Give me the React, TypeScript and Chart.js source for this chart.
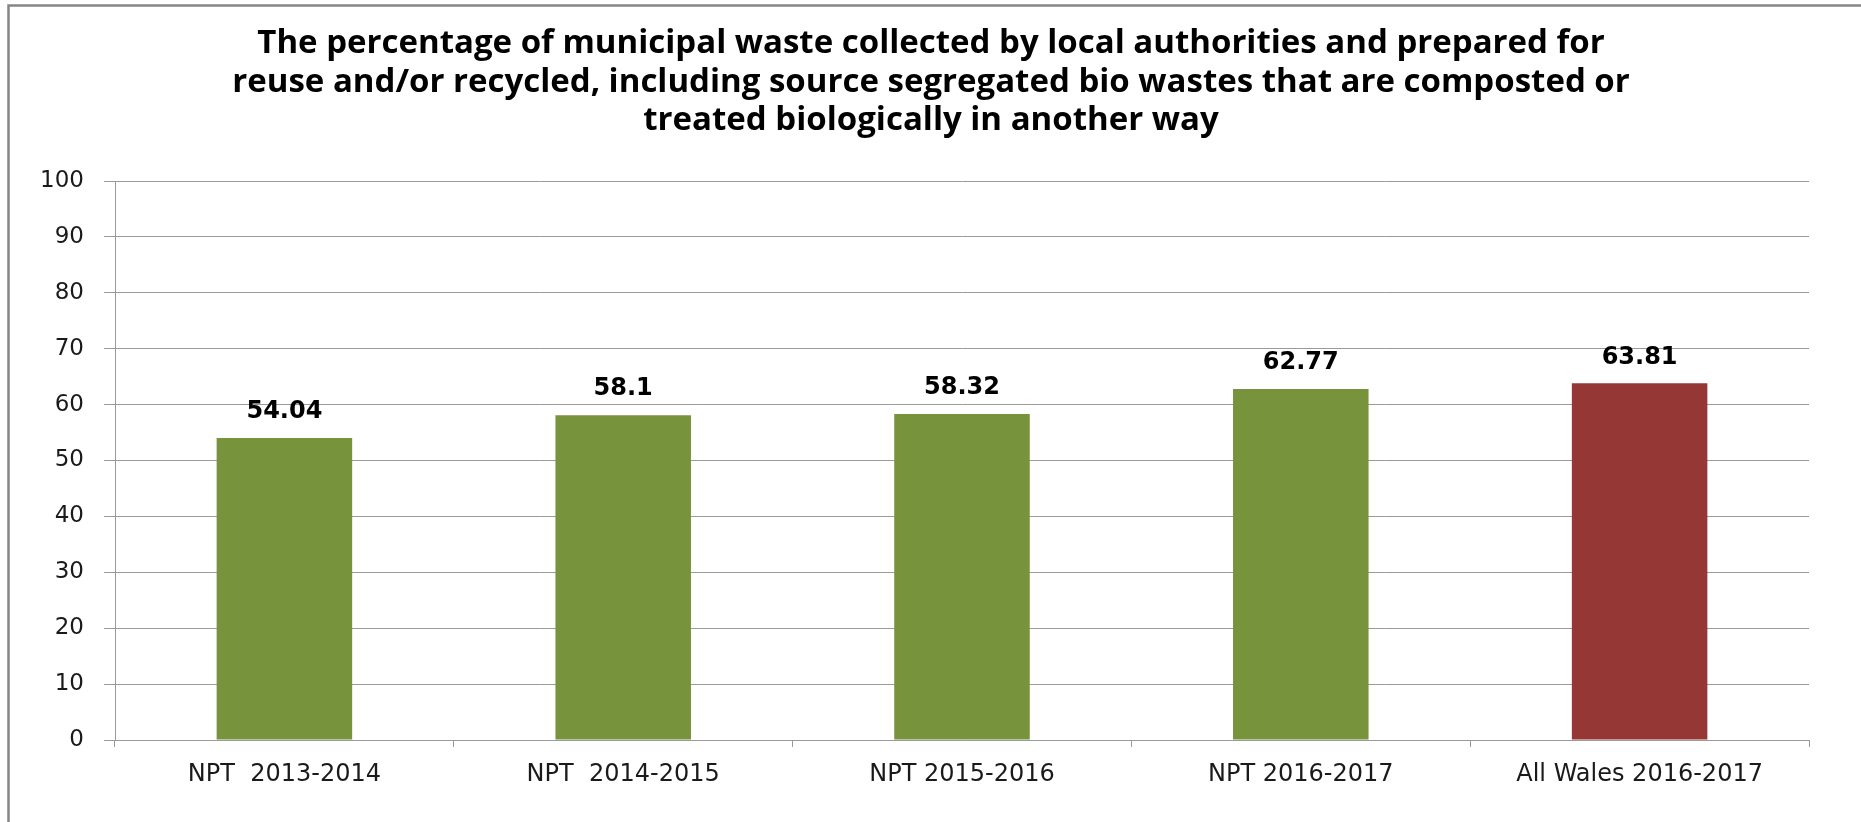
import React, { useEffect, useRef } from 'react';
import { Chart, registerables } from 'chart.js';

Chart.register(...registerables);

const categories = ['NPT  2013-2014', 'NPT  2014-2015', 'NPT 2015-2016', 'NPT 2016-2017', 'All Wales 2016-2017'];
const values = [54.04, 58.1, 58.32, 62.77, 63.81];
const barColors = ['#77933C', '#77933C', '#77933C', '#77933C', '#953735'];
const titleLines = [
  'The percentage of municipal waste collected by local authorities and prepared for',
  'reuse and/or recycled, including source segregated bio wastes that are composted or',
  'treated biologically in another way',
];
const yMin = 0;
const yMax = 100;
const yStep = 10;

export default function App() {
  const ref = useRef<HTMLCanvasElement>(null);

  useEffect(() => {
    const canvas = ref.current;
    if (!canvas) return;

    const framePlugin = {
      id: 'frame',
      beforeDraw(chart: any) {
        const ctx = chart.ctx;
        ctx.save();
        ctx.fillStyle = '#ffffff';
        ctx.fillRect(0, 0, chart.width, chart.height);
        ctx.strokeStyle = '#868686';
        ctx.lineWidth = 2.5;
        ctx.beginPath();
        ctx.moveTo(8.5, chart.height + 2);
        ctx.lineTo(8.5, 5.5);
        ctx.lineTo(chart.width + 2, 5.5);
        ctx.stroke();
        ctx.restore();
      },
    };

    const titlePlugin = {
      id: 'titleText',
      afterDraw(chart: any) {
        const ctx = chart.ctx;
        ctx.save();
        ctx.fillStyle = '#000000';
        ctx.font = 'bold 33px "Open Sans"';
        ctx.textAlign = 'center';
        ctx.textBaseline = 'middle';
        const ys = [44, 83, 121];
        titleLines.forEach((t, i) => ctx.fillText(t, 931, ys[i]));
        ctx.restore();
      },
    };

    const valueLabelPlugin = {
      id: 'valueLabels',
      afterDatasetsDraw(chart: any) {
        const ctx = chart.ctx;
        const meta = chart.getDatasetMeta(0);
        ctx.save();
        ctx.fillStyle = '#000000';
        ctx.font = 'bold 24px "DejaVu Sans"';
        ctx.textAlign = 'center';
        ctx.textBaseline = 'middle';
        meta.data.forEach((bar: any, i: number) => {
          ctx.fillText(String(values[i]), bar.x, bar.y - 26);
        });
        ctx.restore();
      },
    };

    const chart = new Chart(canvas, {
      type: 'bar',
      data: {
        labels: categories,
        datasets: [
          {
            data: values,
            backgroundColor: barColors,
            borderWidth: 0,
            categoryPercentage: 1,
            barPercentage: 0.4,
          },
        ],
      },
      options: {
        responsive: false,
        animation: false,
        devicePixelRatio: 1,
        layout: { padding: { top: 181, right: 52, bottom: 0, left: 0 } },
        plugins: {
          legend: { display: false },
          tooltip: { enabled: false },
          title: { display: false },
        },
        scales: {
          x: {
            grid: {
              display: true,
              offset: true,
              drawOnChartArea: false,
              drawTicks: true,
              tickLength: 7,
              color: '#9a9a9a',
            },
            border: { color: '#9a9a9a', width: 1 },
            ticks: {
              font: { family: 'DejaVu Sans', size: 24 },
              color: '#1a1a1a',
              padding: 13,
              maxRotation: 0,
              autoSkip: false,
            },
            afterFit(scale: any) {
              scale.height = 82;
            },
          },
          y: {
            min: yMin,
            max: yMax,
            ticks: {
              stepSize: yStep,
              font: { family: 'DejaVu Sans', size: 23 },
              color: '#1a1a1a',
              padding: 20,
            },
            grid: { color: '#9a9a9a', lineWidth: 1, tickLength: 11 },
            border: { color: '#9a9a9a', width: 1 },
            afterFit(scale: any) {
              scale.width = 115;
            },
          },
        },
      },
      plugins: [framePlugin, titlePlugin, valueLabelPlugin],
    });

    return () => chart.destroy();
  }, []);

  return (
    <div style={{ position: 'fixed', left: 0, top: 0, width: 1861, height: 822, background: '#fff' }}>
      <canvas ref={ref} width={1861} height={822} style={{ display: 'block' }} />
    </div>
  );
}
